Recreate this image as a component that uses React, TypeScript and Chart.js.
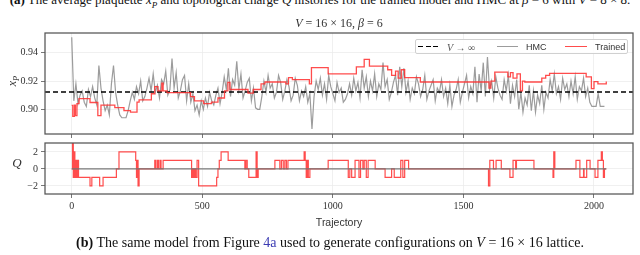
import React, { useEffect, useRef } from 'react';
import { Chart, registerables } from 'chart.js';

Chart.register(...registerables);

// ---------- data ----------
const xTicks = [0, 500, 1000, 1500, 2000];
const xpTicks = [0.9, 0.92, 0.94];
const qTicks = [-2, 0, 2];
const X_MIN = -102.35;
const X_MAX = 2149.35;
const vInfXp = 0.9122;

// HMC average plaquette, one reading every 8 trajectories
const hmcStride = 8;
const hmcXp = [
  0.951, 0.906, 0.918, 0.904, 0.910, 0.913, 0.905, 0.902, 0.914, 0.909, 0.916, 0.908, 0.903, 0.931, 0.915, 0.906,
  0.899, 0.903, 0.896, 0.918, 0.931, 0.912, 0.903, 0.896, 0.894, 0.894, 0.894, 0.899, 0.906, 0.912, 0.907, 0.916,
  0.911, 0.920, 0.906, 0.909, 0.915, 0.922, 0.913, 0.925, 0.912, 0.917, 0.908, 0.921, 0.918, 0.927, 0.910, 0.914,
  0.936, 0.915, 0.926, 0.908, 0.913, 0.921, 0.924, 0.906, 0.918, 0.905, 0.911, 0.899, 0.903, 0.896, 0.906, 0.900,
  0.908, 0.902, 0.912, 0.906, 0.903, 0.910, 0.915, 0.904, 0.912, 0.923, 0.914, 0.929, 0.909, 0.921, 0.917, 0.934,
  0.914, 0.925, 0.908, 0.913, 0.919, 0.922, 0.906, 0.915, 0.901, 0.900, 0.900, 0.909, 0.920, 0.912, 0.924, 0.915,
  0.918, 0.908, 0.912, 0.924, 0.919, 0.907, 0.913, 0.921, 0.916, 0.906, 0.910, 0.922, 0.917, 0.906, 0.913, 0.909,
  0.916, 0.905, 0.911, 0.886, 0.909, 0.920, 0.914, 0.922, 0.910, 0.918, 0.907, 0.924, 0.916, 0.911, 0.906, 0.919,
  0.912, 0.915, 0.905, 0.907, 0.911, 0.918, 0.910, 0.922, 0.913, 0.919, 0.908, 0.928, 0.915, 0.923, 0.909, 0.920,
  0.913, 0.925, 0.909, 0.918, 0.914, 0.933, 0.916, 0.921, 0.907, 0.912, 0.919, 0.924, 0.910, 0.930, 0.916, 0.929,
  0.912, 0.920, 0.907, 0.915, 0.911, 0.923, 0.918, 0.909, 0.914, 0.924, 0.907, 0.913, 0.917, 0.921, 0.906, 0.915,
  0.912, 0.921, 0.909, 0.915, 0.904, 0.917, 0.902, 0.910, 0.914, 0.921, 0.905, 0.912, 0.918, 0.924, 0.908, 0.916,
  0.911, 0.930, 0.905, 0.925, 0.913, 0.933, 0.909, 0.937, 0.914, 0.920, 0.908, 0.923, 0.915, 0.910, 0.907, 0.921,
  0.913, 0.924, 0.904, 0.917, 0.909, 0.921, 0.900, 0.912, 0.898, 0.908, 0.903, 0.917, 0.899, 0.913, 0.898, 0.910,
  0.904, 0.917, 0.900, 0.912, 0.908, 0.921, 0.913, 0.925, 0.911, 0.916, 0.907, 0.922, 0.914, 0.918, 0.909, 0.920,
  0.911, 0.923, 0.907, 0.916, 0.913, 0.922, 0.909, 0.915, 0.905, 0.902, 0.902, 0.902, 0.911, 0.902, 0.902, 0.902,
];

// Trained model: plaquette steps (value holds from each trajectory to the next listed one)
const trainedT = [
  0, 4, 10, 14, 20, 28, 70, 100, 112, 165,
  200, 225, 250, 258, 305, 318, 330, 345, 350, 365,
  455, 470, 505, 535, 560, 585, 598, 606, 675, 695,
  725, 740, 820, 830, 845, 910, 918, 982, 1090, 1120,
  1140, 1210, 1225, 1240, 1250, 1262, 1275, 1335, 1598, 1605,
  1620, 1670, 1680, 1690, 1705, 1718, 1726, 1735, 1800, 1815,
  1830, 1970, 1990, 2000, 2015, 2047,
];
const trainedXp = [
  0.9028, 0.8950, 0.9030, 0.8955, 0.9040, 0.9075, 0.9048, 0.8955, 0.9030, 0.9012,
  0.8990, 0.8980, 0.9050, 0.9066, 0.9110, 0.9160, 0.9130, 0.9185, 0.9130, 0.9118,
  0.9090, 0.9060, 0.9040, 0.9050, 0.9080, 0.9130, 0.9190, 0.9140, 0.9115, 0.9140,
  0.9180, 0.9193, 0.9180, 0.9224, 0.9210, 0.9180, 0.9295, 0.9250, 0.9300, 0.9353,
  0.9306, 0.9280, 0.9240, 0.9270, 0.9220, 0.9280, 0.9224, 0.9193, 0.9150, 0.9200,
  0.9263, 0.9230, 0.9260, 0.9220, 0.9250, 0.9130, 0.9200, 0.9193, 0.9220, 0.9240,
  0.9254, 0.9230, 0.9146, 0.9196, 0.9180, 0.9196,
];

// Trained model: topological charge steps
const qTrainedT = [
  0, 3, 6, 9, 12, 15, 18, 22, 26, 70, 77, 107, 120, 171, 181,
  245, 248, 251, 254, 258, 318, 322, 328, 332, 338, 342, 350,
  459, 463, 467, 471, 475, 480, 486, 555, 560, 565, 572, 599,
  663, 667, 672, 678, 706, 710, 714, 778, 797, 803, 810, 816, 822, 828,
  890, 894, 898, 902, 906, 912, 982, 1059, 1065, 1072, 1085, 1100, 1106,
  1115, 1120, 1128, 1135, 1162, 1200, 1225, 1235, 1260, 1268, 1275, 1290,
  1596, 1601, 1615, 1625, 1645, 1678, 1690, 1700, 1703, 1770,
  1843, 1846, 1850, 1931, 1946, 1960, 1962, 1972, 1985,
  2004, 2015, 2028, 2032, 2036, 2040, 2047,
];
const qTrained = [
  0, 3, -1, 2, -1, 1, -1, 1, -1, -2, -1, -2, -1, 0, 2,
  1, -1, 1, -2, 0, 1, 0, 1, 0, 1, 0, 1,
  -1, 0, -1, 0, -1, 1, -2, -1, 0, 1, 2, 1,
  0, 1, 0, -1, 2, -1, 0, 1, 0, 1, 0, 1, 0, 1,
  2, 1, -1, 1, -1, 0, 1, -1, 0, -1, 1, -1, 1,
  0, 1, -1, 1, 0, -1, 0, -1, 1, -1, 1, 0,
  -2, 1, 0, 1, 0, -1, 1, 0, 1, 0,
  -1, 2, 0, 1, -1, 0, -1, 1, 0,
  -1, 1, 2, 1, -1, 0, 0,
];

// HMC topological charge (stays at zero)
const qHmcT = [0, 2047];
const qHmc = [0, 0];

// ---------- helpers ----------
const GRID = '#ececec';
const SPINE = '#555';
const TICKC = '#333';
const RED = 'rgba(255, 45, 45, 0.85)';
const GRAY = 'rgba(128, 128, 128, 0.78)';
const serif = "'Liberation Serif', 'DejaVu Serif', serif";
const sans = "'Liberation Sans', Arial, sans-serif";

const framePlugin = {
  id: 'frame',
  afterDraw(chart: any) {
    const { ctx, chartArea } = chart;
    ctx.save();
    ctx.strokeStyle = SPINE;
    ctx.lineWidth = 1.25;
    ctx.strokeRect(chartArea.left, chartArea.top, chartArea.right - chartArea.left, chartArea.bottom - chartArea.top);
    ctx.restore();
  },
};

function xScale(showLabels: boolean, height: number) {
  return {
    type: 'linear',
    min: X_MIN,
    max: X_MAX,
    afterBuildTicks: (s: any) => {
      s.ticks = xTicks.map((v) => ({ value: v }));
    },
    afterFit: (s: any) => {
      s.height = height;
    },
    ticks: {
      display: showLabels,
      font: { family: serif, size: 10 },
      color: TICKC,
      padding: 2,
      maxRotation: 0,
      autoSkip: false,
      callback: (v: any) => String(v),
    },
    grid: { color: GRID, tickColor: SPINE, tickLength: 4, drawTicks: true, lineWidth: 0.8 },
    border: { display: false },
  };
}

function yScale(min: number, max: number, ticks: number[], fmt: (v: number) => string) {
  return {
    type: 'linear',
    min,
    max,
    afterBuildTicks: (s: any) => {
      s.ticks = ticks.map((v) => ({ value: v }));
    },
    afterFit: (s: any) => {
      s.width = 45;
    },
    ticks: {
      font: { family: serif, size: 10 },
      color: TICKC,
      padding: 3,
      autoSkip: false,
      callback: (v: any) => fmt(Number(v)),
    },
    grid: { color: GRID, tickColor: SPINE, tickLength: 4, drawTicks: true, lineWidth: 0.8 },
    border: { display: false },
  };
}

const baseOpts = {
  animation: false,
  responsive: false,
  maintainAspectRatio: false,
  events: [],
  plugins: { legend: { display: false }, tooltip: { enabled: false } },
};

function TopPanel() {
  const ref = useRef<HTMLCanvasElement>(null);
  useEffect(() => {
    const chart = new Chart(ref.current as HTMLCanvasElement, {
      type: 'line',
      data: {
        datasets: [
          {
            label: 'Trained',
            data: trainedT.map((t, i) => ({ x: t, y: trainedXp[i] })),
            stepped: true,
            borderColor: RED,
            borderWidth: 1.3,
            pointRadius: 0,
            fill: false,
            order: 1,
          },
          {
            label: 'V → ∞',
            data: [
              { x: X_MIN, y: vInfXp },
              { x: X_MAX, y: vInfXp },
            ],
            borderColor: '#000',
            borderDash: [5, 3],
            borderWidth: 1.5,
            pointRadius: 0,
            fill: false,
            order: 2,
          },
          {
            label: 'HMC',
            data: hmcXp.map((v, i) => ({ x: i * hmcStride, y: v })),
            borderColor: GRAY,
            borderWidth: 1.2,
            pointRadius: 0,
            tension: 0,
            fill: false,
            order: 3,
          },
        ],
      },
      options: {
        ...baseOpts,
        layout: { padding: { top: 33, right: 7, left: 0, bottom: 0 } },
        scales: {
          x: xScale(false, 16),
          y: yScale(0.8825, 0.954, xpTicks, (v) => v.toFixed(2)),
        },
      } as any,
      plugins: [framePlugin],
    });
    return () => chart.destroy();
  }, []);
  return (
    <canvas
      ref={ref}
      width={640}
      height={150}
      style={{ position: 'absolute', left: 0, top: 0, width: 640, height: 150, display: 'block' }}
    />
  );
}

function BottomPanel() {
  const ref = useRef<HTMLCanvasElement>(null);
  useEffect(() => {
    const chart = new Chart(ref.current as HTMLCanvasElement, {
      type: 'line',
      data: {
        datasets: [
          {
            label: 'HMC',
            data: qHmcT.map((t, i) => ({ x: t, y: qHmc[i] })),
            borderColor: 'rgba(115, 115, 115, 0.95)',
            borderWidth: 1.3,
            pointRadius: 0,
            fill: false,
            order: 1,
          },
          {
            label: 'Trained',
            data: qTrainedT.map((t, i) => ({ x: t, y: qTrained[i] })),
            stepped: true,
            borderColor: RED,
            borderWidth: 1.2,
            pointRadius: 0,
            fill: false,
            order: 2,
          },
        ],
      },
      options: {
        ...baseOpts,
        layout: { padding: { top: 15, right: 7, left: 0, bottom: 0 } },
        scales: {
          x: xScale(true, 26),
          y: yScale(-2.95, 3.05, qTicks, (v) => (v < 0 ? '\u2212' + Math.abs(v) : String(v))),
        },
      } as any,
      plugins: [framePlugin],
    });
    return () => chart.destroy();
  }, []);
  return (
    <canvas
      ref={ref}
      width={640}
      height={92}
      style={{ position: 'absolute', left: 0, top: 128, width: 640, height: 92, display: 'block' }}
    />
  );
}

const abs = (s: React.CSSProperties): React.CSSProperties => ({ position: 'absolute', whiteSpace: 'nowrap', ...s });

export default function App() {
  return (
    <div
      style={{
        position: 'absolute',
        left: 0,
        top: 0,
        width: 640,
        height: 255,
        overflow: 'hidden',
        background: '#fff',
        fontFamily: serif,
        color: '#222',
      }}
    >
      {/* cut-off caption of the previous sub-figure */}
      <div
        style={abs({
          left: 0,
          top: -8,
          width: 640,
          display: 'flex',
          justifyContent: 'center',
          fontSize: 13,
          lineHeight: '15px',
          color: '#111',
        })}
      >
        <span>
          <b>(a)</b> The average plaquette <i>x</i>
          <sub style={{ fontSize: '0.7em', lineHeight: 0 }}>
            <i>P</i>
          </sub>{' '}
          and topological charge <i>Q</i> histories for the trained model and HMC at <i>β</i> = 6 with <i>V</i> = 8 × 8.
        </span>
      </div>

      <TopPanel />
      <BottomPanel />

      {/* title */}
      <div style={abs({ left: 339, top: 23, transform: 'translate(-50%, -50%)', fontSize: 12, color: '#333' })}>
        <i>V</i> = 16 × 16, <i>β</i> = 6
      </div>

      {/* y labels */}
      <div
        style={abs({
          left: 12,
          top: 81,
          transform: 'translate(-50%, -50%) rotate(-90deg)',
          fontSize: 12,
          color: '#333',
        })}
      >
        <i>x</i>
        <sub style={{ fontSize: '0.7em', lineHeight: 0 }}>
          <i>P</i>
        </sub>
      </div>
      <div style={abs({ left: 17, top: 163, transform: 'translate(-50%, -50%)', fontSize: 13, color: '#333' })}>
        <i>Q</i>
      </div>

      {/* x label */}
      <div
        style={abs({ left: 339, top: 222, transform: 'translate(-50%, -50%)', fontSize: 10.5, fontFamily: sans, color: '#333' })}
      >
        Trajectory
      </div>

      {/* legend */}
      <div
        style={abs({
          left: 415,
          top: 39,
          width: 213,
          height: 15,
          border: '1px solid #d0d0d0',
          borderRadius: 2,
          background: 'rgba(255,255,255,0.85)',
          boxSizing: 'border-box',
        })}
      />
      <div
        style={abs({
          left: 418,
          top: 45.5,
          width: 20,
          height: 1.6,
          background: 'repeating-linear-gradient(to right, #000 0 5px, transparent 5px 7.5px)',
        })}
      />
      <div style={abs({ left: 447, top: 46.5, transform: 'translateY(-50%)', fontSize: 10, color: '#555' })}>
        <i>V</i> → ∞
      </div>
      <div style={abs({ left: 497, top: 45.5, width: 21, height: 1.5, background: GRAY })} />
      <div style={abs({ left: 526, top: 46.5, transform: 'translateY(-50%)', fontSize: 9, fontFamily: sans, color: '#333' })}>
        HMC
      </div>
      <div style={abs({ left: 565, top: 45.5, width: 22, height: 1.5, background: RED })} />
      <div style={abs({ left: 595, top: 46.5, transform: 'translateY(-50%)', fontSize: 9, fontFamily: sans, color: '#333' })}>
        Trained
      </div>

      {/* caption */}
      <div style={abs({ left: 330, top: 243, transform: 'translate(-50%, -50%)', fontSize: 14, color: '#111' })}>
        <b>(b)</b> The same model from Figure <span style={{ color: '#3b3bb3' }}>4a</span> used to generate configurations on{' '}
        <i>V</i> = 16 × 16 lattice.
      </div>
    </div>
  );
}
